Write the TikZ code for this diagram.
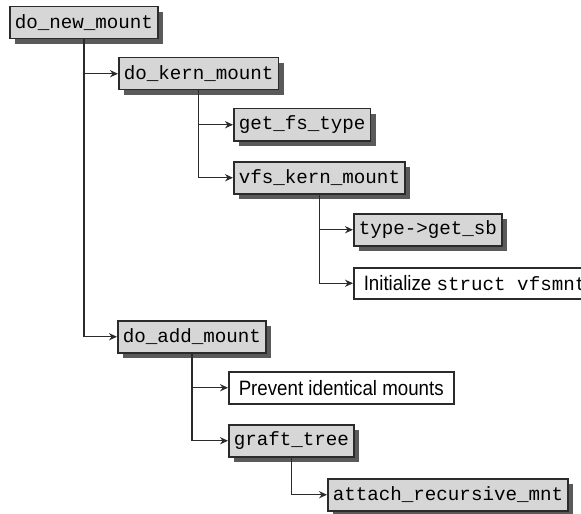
\documentclass[tikz,border=0pt]{standalone}
\usepackage{fontspec}
\setmainfont[FakeStretch=0.9]{Liberation Sans}
\setmonofont{Liberation Mono}
\usetikzlibrary{arrows.meta,shadows}
\definecolor{mgray}{HTML}{D6D6D6}
\definecolor{mshad}{HTML}{5A5A5A}
\definecolor{ink}{HTML}{2B2B2B}
\tikzset{
  blk/.style={draw=ink, line width=0.75pt, minimum height=16pt, inner ysep=0pt,
              anchor=north west},
  fn/.style ={blk, fill=mgray, inner xsep=2.5pt, font=\ttfamily\fontsize{9.6}{11}\selectfont,
              drop shadow={shadow xshift=2.6pt, shadow yshift=-2.6pt, fill=mshad, opacity=1}},
  txt/.style={blk, fill=white, inner xsep=5pt, font=\fontsize{10.4}{12}\selectfont},
  ar/.style ={-{Stealth[length=4pt, width=3.6pt, inset=1.3pt]}, line width=0.7pt, draw=ink},
}

\begin{document}
\begin{tikzpicture}[x=0.5pt, y=-0.5pt]
\useasboundingbox (0,0) rectangle (581,513);

\node[fn] (newm)   at (9,6)     {do\_new\_mount};
\node[fn] (kern)   at (118,57)  {do\_kern\_mount};
\node[fn] (getfs)  at (233,108) {get\_fs\_type};
\node[fn] (vfs)    at (233,161) {vfs\_kern\_mount};
\node[fn] (getsb)  at (353,213) {type->get\_sb};
\node[txt, minimum height=15.5pt] (init) at (353,267)
  {Initialize {\ttfamily\fontsize{9.6}{11}\selectfont struct vfsmnt}};
\node[fn] (addm)   at (117,320) {do\_add\_mount};
\node[txt] (prev)  at (228,371) {Prevent identical mounts};
\node[fn] (graft)  at (228,424) {graft\_tree};
\node[fn] (attach) at (327,478) {attach\_recursive\_mnt};

% call tree: each caller drops a line, each callee gets a branch
\draw[ar] (newm.south)  |- (kern.west);
\draw[ar] (newm.south)  |- (addm.west);
\draw[ar] (kern.south)  |- (getfs.west);
\draw[ar] (kern.south)  |- (vfs.west);
\draw[ar] (vfs.south)   |- (getsb.west);
\draw[ar] (vfs.south)   |- (init.west);
\draw[ar] (addm.south)  |- (prev.west);
\draw[ar] (addm.south)  |- (graft.west);
\draw[ar] (graft.south) |- (attach.west);

\end{tikzpicture}
\end{document}
